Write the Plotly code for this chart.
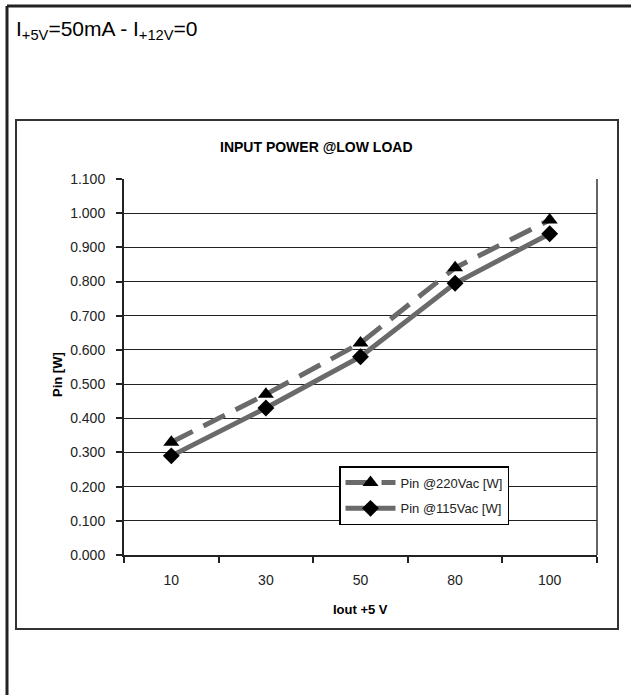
import plotly.graph_objects as go

categories = ["10", "30", "50", "80", "100"]
pin_220 = [0.330, 0.470, 0.620, 0.840, 0.980]
pin_115 = [0.290, 0.430, 0.580, 0.795, 0.940]
y_ticks = [0.0, 0.1, 0.2, 0.3, 0.4, 0.5, 0.6, 0.7, 0.8, 0.9, 1.0, 1.1]

W, H = 631, 695
L, R, T, B = 124, 597, 179, 555

def px(x):
    return (x - L) / (R - L)

def py(y):
    return (B - y) / (B - T)

font_family = "Liberation Sans, Arial, sans-serif"

fig = go.Figure()
fig.add_trace(go.Scatter(
    x=categories, y=pin_220, name="Pin @220Vac [W]", mode="lines+markers",
    legendgroup="a",
    line=dict(color="#6a6a6a", width=5, dash="24px,12px"),
    marker=dict(symbol="triangle-up", size=14, color="black"),
))
fig.add_trace(go.Scatter(
    x=categories, y=pin_115, name="Pin @115Vac [W]", mode="lines+markers",
    legendgroup="b",
    line=dict(color="#6a6a6a", width=5),
    marker=dict(symbol="diamond", size=13, color="black"),
))

shapes = [
    dict(type="line", xref="paper", yref="paper", x0=px(7), x1=px(640), y0=py(6), y1=py(6),
         line=dict(color="#222", width=3)),
    dict(type="line", xref="paper", yref="paper", x0=px(7), x1=px(7), y0=py(6), y1=py(700),
         line=dict(color="#222", width=3)),
    dict(type="rect", xref="paper", yref="paper", x0=px(16), x1=px(618), y0=py(120), y1=py(629),
         line=dict(color="#333", width=2), layer="below"),
]

annotations = [
    dict(text="I<sub>+5V</sub>=50mA - I<sub>+12V</sub>=0", xref="paper", yref="paper",
         x=px(14), y=py(15), xanchor="left", yanchor="top", showarrow=False,
         font=dict(size=21, family=font_family, color="black")),
    dict(text="<b>INPUT POWER @LOW LOAD</b>", xref="paper", yref="paper",
         x=px(316), y=py(147), xanchor="center", yanchor="middle", showarrow=False,
         font=dict(size=14, family=font_family, color="black")),
    dict(text="<b>Pin [W]</b>", xref="paper", yref="paper", textangle=-90,
         x=px(57), y=py(375), xanchor="center", yanchor="middle", showarrow=False,
         font=dict(size=13, family=font_family, color="black")),
    dict(text="<b>Iout +5 V</b>", xref="paper", yref="paper",
         x=px(360), y=py(609), xanchor="center", yanchor="middle", showarrow=False,
         font=dict(size=13, family=font_family, color="black")),
]

fig.update_layout(
    width=W, height=H,
    margin=dict(l=L, r=W - R, t=T, b=H - B, pad=0),
    paper_bgcolor="white", plot_bgcolor="white",
    font=dict(family=font_family, size=14, color="#222"),
    showlegend=True,
    legend=dict(x=px(339), y=py(466), xanchor="left", yanchor="top",
                bgcolor="white", bordercolor="black", borderwidth=1.5,
                font=dict(size=13, family=font_family, color="#222"),
                itemwidth=50, tracegroupgap=6),
    shapes=shapes, annotations=annotations,
)

fig.update_xaxes(
    type="category", showgrid=False, showline=True, linecolor="#222", linewidth=2,
    mirror=False, ticks="outside", tickson="boundaries", ticklen=6, tickcolor="#222",
    tickwidth=1.5, ticklabelstandoff=11, tickfont=dict(size=14, color="#222"),
    range=[-0.5, 4.5], zeroline=False,
)
fig.update_yaxes(
    range=[0, 1.1], tickvals=y_ticks, tickformat=".3f", showgrid=True, gridcolor="#222",
    gridwidth=1.2, showline=True, linecolor="#222", linewidth=2, ticks="outside",
    ticklen=6, tickcolor="#222", tickwidth=1.5, ticklabelstandoff=8,
    tickfont=dict(size=14, color="#222"), zeroline=False,
)

fig.add_shape(type="line", xref="paper", yref="paper", x0=1, x1=1, y0=0, y1=1,
              line=dict(color="#333", width=1.5))

fig.write_html("out.html", config={"displayModeBar": False},
               post_script="document.body.style.margin='0';")
